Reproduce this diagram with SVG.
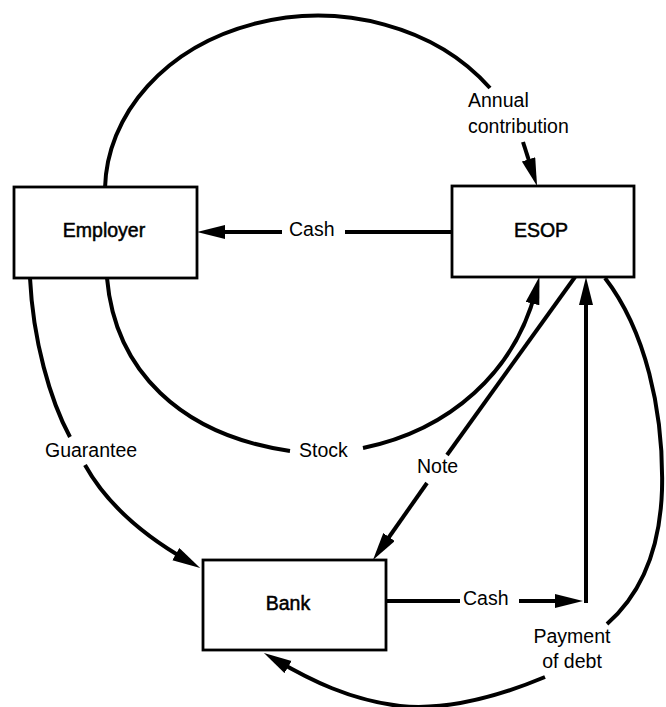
<svg xmlns="http://www.w3.org/2000/svg" width="666" height="707" viewBox="0 0 666 707">
<style>
.box{fill:#fff;stroke:#000;stroke-width:2.8}
.node{font-family:"Liberation Sans",Arial,sans-serif;font-size:19.5px;fill:#000;stroke:#000;stroke-width:0.5;text-anchor:middle}
.lbl{font-family:"Liberation Sans",Arial,sans-serif;font-size:19.5px;fill:#000}
.c{fill:none;stroke:#000;stroke-width:4;stroke-linecap:butt}
.a{marker-end:url(#ah)}
</style>
<defs>
<marker id="ah" markerUnits="userSpaceOnUse" markerWidth="30" markerHeight="16" refX="14" refY="7" orient="auto">
<path d="M0,0 L28,7 L0,14 z" fill="#000"/>
</marker>
</defs>
<rect width="666" height="707" fill="#fff"/>
<g id="connectors">
<path class="c" d="M105,188 A213,176 0 0 1 490,88"/>
<path class="c a" d="M523,142 L532.8,172.6"/>
<path class="c" d="M452,232 L345,232"/>
<path class="c a" d="M282,232 L211,232"/>
<path class="c" d="M30,278 C33,340 50,400 70,437"/>
<path class="c a" d="M85,465 C110,510 153,541 188,561"/>
<path class="c" d="M107,278 C115,370 180,435 290,451"/>
<path class="c a" d="M363,448 C450,430 515,372 536,290"/>
<path class="c" d="M575,277 L447,455"/>
<path class="c a" d="M427,483 L381,548.5"/>
<path class="c" d="M386,601 L460,601"/>
<path class="c a" d="M519,601 L569,601"/>
<path class="c a" d="M586,603 L586,291"/>
<path class="c" d="M605,278 C645,330 664,410 662,490 C660,550 640,595 607,624"/>
<path class="c a" d="M545,677 C490,700 440,710 400,706 C350,700 310,680 276,660"/>
</g>
<g id="labels">
<text class="lbl" x="468" y="107">Annual</text>
<text class="lbl" x="468" y="133">contribution</text>
<text class="lbl" x="289" y="236">Cash</text>
<text class="lbl" x="45" y="457">Guarantee</text>
<text class="lbl" x="299" y="457">Stock</text>
<text class="lbl" x="417" y="473">Note</text>
<text class="lbl" x="463" y="605">Cash</text>
<text class="lbl" x="572" y="643" text-anchor="middle">Payment</text>
<text class="lbl" x="572" y="668" text-anchor="middle">of debt</text>
</g>
<g id="employer">
<rect class="box" x="14" y="187" width="183" height="91"/>
<text class="node" x="104" y="237">Employer</text>
</g>
<g id="esop">
<rect class="box" x="452" y="186" width="182" height="91"/>
<text class="node" x="541" y="237">ESOP</text>
</g>
<g id="bank">
<rect class="box" x="203" y="560" width="183" height="90"/>
<text class="node" x="288" y="610">Bank</text>
</g>
</svg>
